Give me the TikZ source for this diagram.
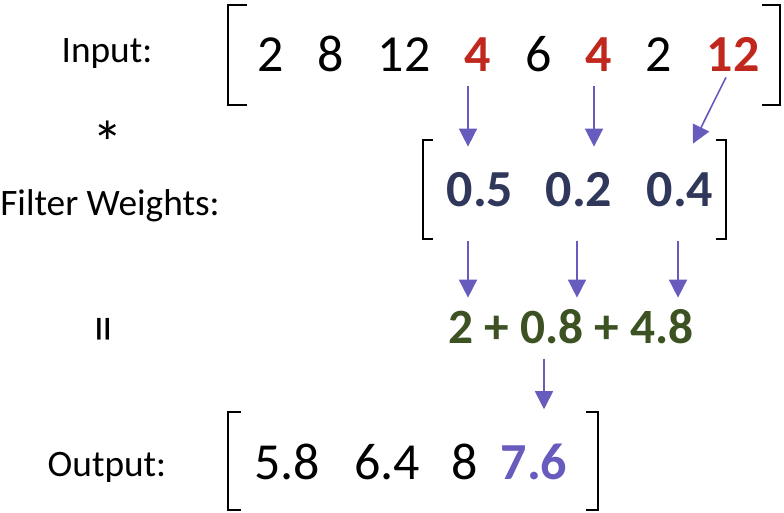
\documentclass[tikz,border=0pt]{standalone}
\usepackage{fontspec}
\setmainfont{Carlito}
\usetikzlibrary{arrows.meta}
\definecolor{numred}{RGB}{192,40,30}
\definecolor{wtblue}{RGB}{47,56,90}
\definecolor{sumgreen}{RGB}{60,82,34}
\definecolor{arrpurple}{RGB}{103,92,189}

\begin{document}
\begin{tikzpicture}[x=0.75pt,y=-0.75pt,
   lbl/.style={font=\fontsize{28}{32}\selectfont,inner sep=0pt,anchor=base},
   num/.style={font=\fontsize{39}{44}\selectfont,inner sep=0pt,anchor=base},
   bnum/.style={num,font=\fontsize{39}{44}\selectfont\bfseries},
   brk/.style={line width=2pt,color=black},
   arr/.style={color=arrpurple,line width=1.2pt,-{Triangle[width=13.5pt,length=13.5pt]}}]
   \useasboundingbox (0,0) rectangle (784,513);
   \node[lbl] (linput) at (107,63) {Input:};
   \node[lbl,anchor=center,font=\fontsize{46}{50}\selectfont] (lstar) at (108,143) {*};
   \node[lbl] (lfilter) at (110,215) {Filter Weights:};
   \node[lbl,anchor=center,rotate=90,font=\fontsize{40}{44}\selectfont] (leq) at (109,329) {=};
   \node[lbl] (loutput) at (107,476) {Output:};
   \node[num] (in1) at (271,72) {2};
   \node[num] (in2) at (331,72) {8};
   \node[num] (in3) at (404,72) {12};
   \node[bnum,color=numred] (in4) at (478,72) {4};
   \node[num] (in5) at (539,72) {6};
   \node[bnum,color=numred] (in6) at (599,72) {4};
   \node[num] (in7) at (659,72) {2};
   \node[bnum,color=numred] (in8) at (733,72) {12};
   \node[bnum,color=wtblue] (w1) at (480,207) {0.5};
   \node[bnum,color=wtblue] (w2) at (579,207) {0.2};
   \node[bnum,color=wtblue] (w3) at (680,207) {0.4};
   \node[bnum,color=sumgreen,font=\fontsize{37}{42}\selectfont\bfseries] (sum) at (571,343) {2 + 0.8 + 4.8};
   \node[num] (out1) at (287,479) {5.8};
   \node[num] (out2) at (387,479) {6.4};
   \node[num] (out3) at (465,479) {8};
   \node[bnum,color=arrpurple] (out4) at (534,479) {7.6};
   \draw[brk] (247,5) -- (228,5) -- (228,105) -- (247,105);
   \draw[brk] (762,5) -- (780,5) -- (780,105) -- (762,105);
   \draw[brk] (433,140) -- (423,140) -- (423,239) -- (433,239);
   \draw[brk] (716,140) -- (726,140) -- (726,239) -- (716,239);
   \draw[brk] (241,412) -- (228,412) -- (228,510) -- (241,510);
   \draw[brk] (586,412) -- (598,412) -- (598,510) -- (586,510);
   \draw[arr,shorten <=10.5pt,shorten >=19.5pt] ([xshift=-7.5pt]in4.south) -- ([xshift=-7.5pt]in4.south |- w1.north);
   \draw[arr,shorten <=10.5pt,shorten >=19.5pt] ([xshift=-3.75pt]in6.south) -- ([xshift=-3.75pt]in6.south |- w2.north);
   \draw[arr] ([xshift=-5.25pt,yshift=-3.75pt]in8.south) -- ([xshift=9.75pt,yshift=21.75pt]w3.north);
   \draw[arr,shorten <=24.75pt,shorten >=8.25pt] ([xshift=-9pt]w1.south) -- ([xshift=-9pt]w1.south |- sum.north);
   \draw[arr,shorten <=24.75pt,shorten >=8.25pt] ([xshift=-1.5pt]w2.south) -- ([xshift=-1.5pt]w2.south |- sum.north);
   \draw[arr,shorten <=24.75pt,shorten >=8.25pt] ([xshift=-1.5pt]w3.south) -- ([xshift=-1.5pt]w3.south |- sum.north);
   \draw[arr,shorten <=11.25pt,shorten >=25.5pt] ([xshift=-20.25pt]sum.south) -- ([xshift=-20.25pt]sum.south |- out4.north);
\end{tikzpicture}
\end{document}
